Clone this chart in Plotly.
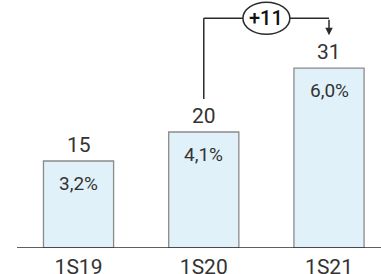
import plotly.graph_objects as go

categories = ["1S19", "1S20", "1S21"]
values = [15, 20, 31]
pct_labels = ["3,2%", "4,1%", "6,0%"]
delta_label = "+11"

W, H = 381, 274
MB = 26
plot_h = H - MB
y_max = 42.76
ppu = plot_h / y_max  # pixels per unit
x0r, x1r = -0.627, 2.415
ppx = W / (x1r - x0r)

def up(v, px):
    return v + px / ppu

def xr(px):
    return x0r + px / ppx

FONT = "Roboto"
TXT = "#333333"
LINE = "#2b2b2b"

fig = go.Figure()
fig.add_trace(go.Bar(
    x=list(range(len(categories))), y=values, width=0.56,
    marker=dict(color="#e1f1f9", line=dict(color="#8a8a8a", width=1.3)),
    hoverinfo="skip",
))

ann = []
for i, (v, p) in enumerate(zip(values, pct_labels)):
    ann.append(dict(x=i, y=v, text=str(v), showarrow=False, yanchor="middle",
                    yshift=16, font=dict(family=FONT, size=21, color=TXT)))
    ann.append(dict(x=i, y=v, text=p, showarrow=False, yanchor="middle",
                    yshift=-22, font=dict(family=FONT, size=19, color=TXT)))

level = up(values[2], 50)
tip = up(values[2], 33)
start = up(values[1], 33)
cx = (1 + 2) / 2
ew = 0.375 / 2
eh = 16 / ppu

shapes = [
    dict(type="line", xref="x", yref="y", x0=xr(17), x1=xr(W), y0=0, y1=0,
         line=dict(color=LINE, width=1.5)),
    dict(type="line", x0=1, x1=1, y0=start, y1=level, line=dict(color=LINE, width=1.5)),
    dict(type="line", x0=1, x1=cx - ew, y0=level, y1=level, line=dict(color=LINE, width=1.5)),
    dict(type="line", x0=cx + ew, x1=2, y0=level, y1=level, line=dict(color=LINE, width=1.5)),
    dict(type="circle", x0=cx - ew, x1=cx + ew, y0=level - eh, y1=level + eh,
         line=dict(color=LINE, width=1.5), fillcolor="white"),
]
ann.append(dict(x=2, y=tip, ax=2, ay=level, xref="x", yref="y", axref="x", ayref="y",
                text="", showarrow=True, arrowhead=2, arrowsize=1, arrowwidth=1.5,
                arrowcolor=LINE))
ann.append(dict(x=cx, y=level, text=delta_label, showarrow=False,
                font=dict(family=FONT, size=20, color="#111111", weight=500)))

fig.update_layout(
    width=W, height=H, margin=dict(l=0, r=0, t=0, b=MB),
    plot_bgcolor="white", paper_bgcolor="white", showlegend=False,
    xaxis=dict(range=[x0r, x1r], tickvals=list(range(len(categories))), ticktext=categories,
               showgrid=False, zeroline=False, showline=False, ticks="",
               ticklabelstandoff=4, automargin=False,
               tickfont=dict(family=FONT, size=21, color=TXT), fixedrange=True),
    yaxis=dict(range=[0, y_max], visible=False, fixedrange=True, automargin=False),
    shapes=shapes, annotations=ann,
)
fig.write_html("out.html", config={"displayModeBar": False},
               post_script="document.body.style.margin='0px';document.body.style.overflow='hidden';")
